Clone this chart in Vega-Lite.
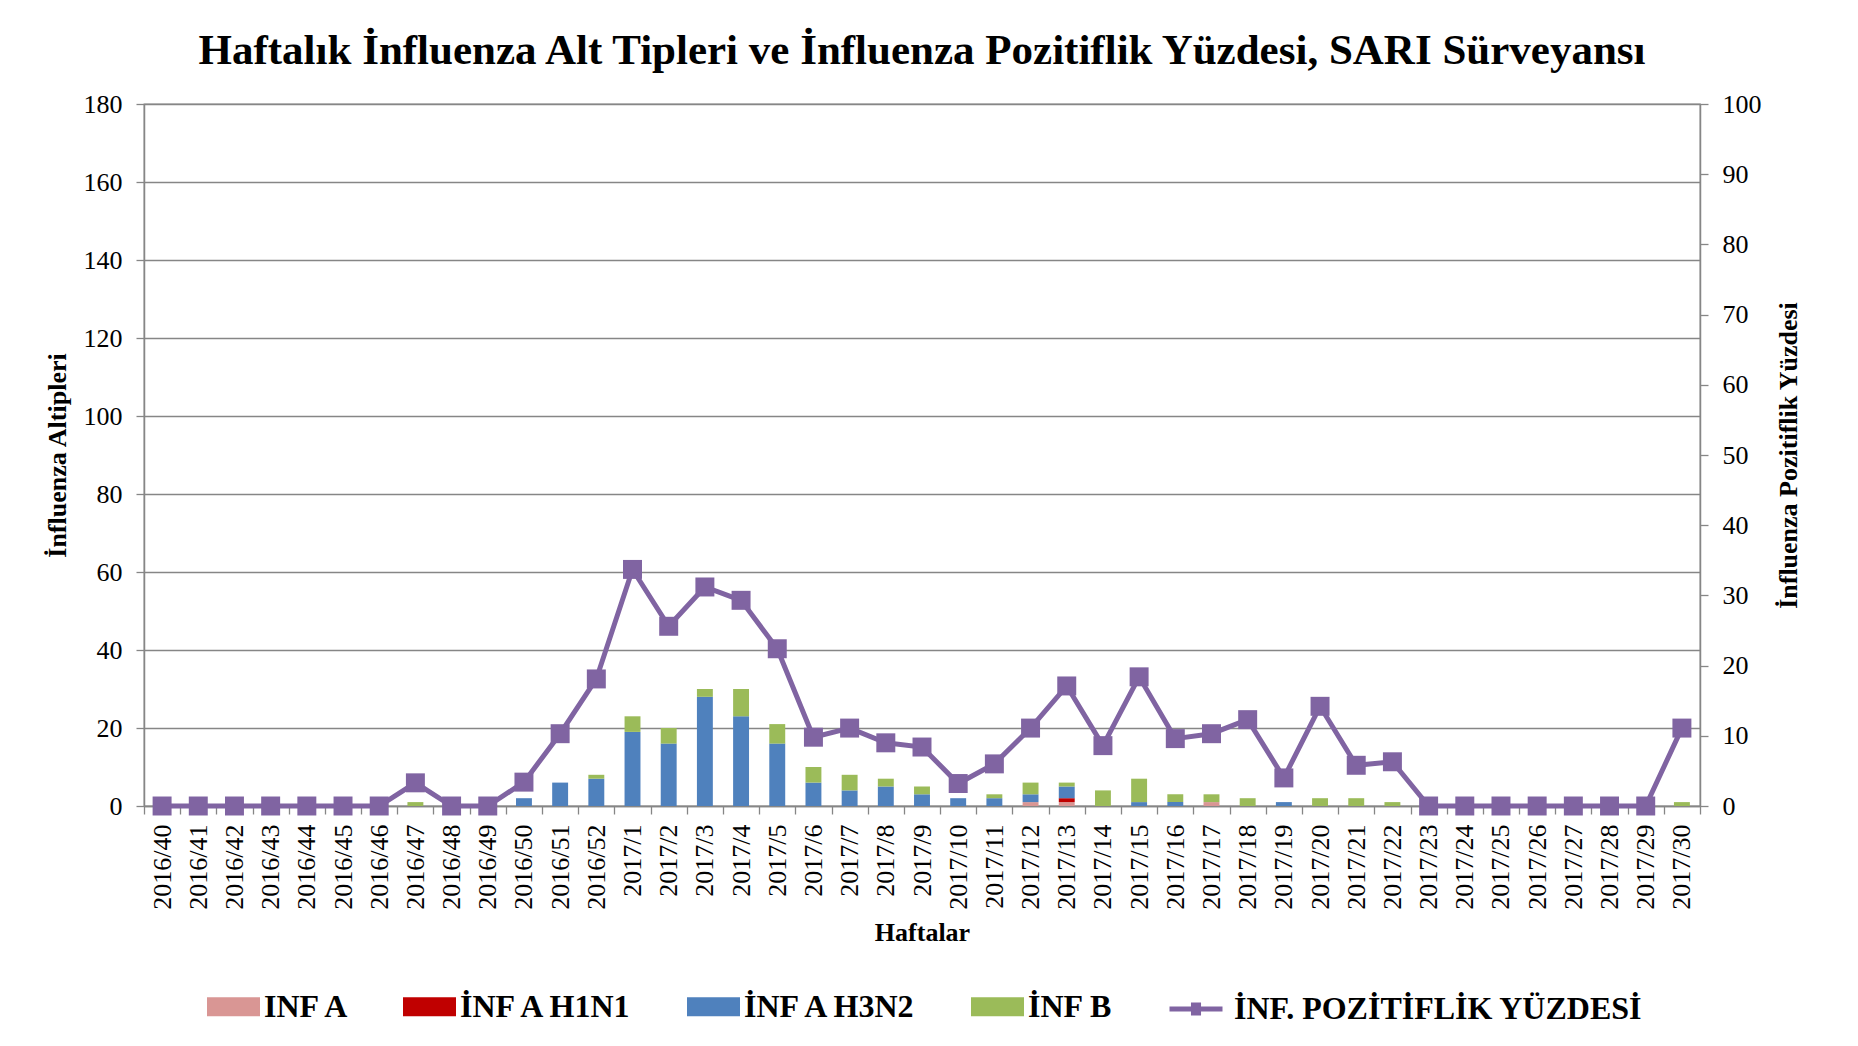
{
  "$schema": "https://vega.github.io/schema/vega-lite/v6.json",
  "autosize": {"type": "none"},
  "padding": {"left": 144, "top": 104, "right": 158, "bottom": 240},
  "width": 1556,
  "height": 702,
  "background": "white",
  "title": {
    "text": "Haftalık İnfluenza Alt Tipleri ve İnfluenza Pozitiflik Yüzdesi, SARI Sürveyansı",
    "font": "Liberation Serif",
    "fontSize": 43,
    "fontWeight": "bold",
    "color": "black",
    "anchor": "middle",
    "offset": 18
  },
  "datasets": {
    "counts": [
      {"week": "2016/47", "series": "İNF B", "n": 1},
      {"week": "2016/50", "series": "İNF A H3N2", "n": 2},
      {"week": "2016/51", "series": "İNF A H3N2", "n": 6},
      {"week": "2016/52", "series": "İNF A H3N2", "n": 7},
      {"week": "2016/52", "series": "İNF B", "n": 1},
      {"week": "2017/1", "series": "İNF A H3N2", "n": 19},
      {"week": "2017/1", "series": "İNF B", "n": 4},
      {"week": "2017/2", "series": "İNF A H3N2", "n": 16},
      {"week": "2017/2", "series": "İNF B", "n": 4},
      {"week": "2017/3", "series": "İNF A H3N2", "n": 28},
      {"week": "2017/3", "series": "İNF B", "n": 2},
      {"week": "2017/4", "series": "İNF A H3N2", "n": 23},
      {"week": "2017/4", "series": "İNF B", "n": 7},
      {"week": "2017/5", "series": "İNF A H3N2", "n": 16},
      {"week": "2017/5", "series": "İNF B", "n": 5},
      {"week": "2017/6", "series": "İNF A H3N2", "n": 6},
      {"week": "2017/6", "series": "İNF B", "n": 4},
      {"week": "2017/7", "series": "İNF A H3N2", "n": 4},
      {"week": "2017/7", "series": "İNF B", "n": 4},
      {"week": "2017/8", "series": "İNF A H3N2", "n": 5},
      {"week": "2017/8", "series": "İNF B", "n": 2},
      {"week": "2017/9", "series": "İNF A H3N2", "n": 3},
      {"week": "2017/9", "series": "İNF B", "n": 2},
      {"week": "2017/10", "series": "İNF A H3N2", "n": 2},
      {"week": "2017/11", "series": "İNF A H3N2", "n": 2},
      {"week": "2017/11", "series": "İNF B", "n": 1},
      {"week": "2017/12", "series": "INF A", "n": 1},
      {"week": "2017/12", "series": "İNF A H3N2", "n": 2},
      {"week": "2017/12", "series": "İNF B", "n": 3},
      {"week": "2017/13", "series": "INF A", "n": 1},
      {"week": "2017/13", "series": "İNF A H1N1", "n": 1},
      {"week": "2017/13", "series": "İNF A H3N2", "n": 3},
      {"week": "2017/13", "series": "İNF B", "n": 1},
      {"week": "2017/14", "series": "İNF B", "n": 4},
      {"week": "2017/15", "series": "İNF A H3N2", "n": 1},
      {"week": "2017/15", "series": "İNF B", "n": 6},
      {"week": "2017/16", "series": "İNF A H3N2", "n": 1},
      {"week": "2017/16", "series": "İNF B", "n": 2},
      {"week": "2017/17", "series": "INF A", "n": 1},
      {"week": "2017/17", "series": "İNF B", "n": 2},
      {"week": "2017/18", "series": "İNF B", "n": 2},
      {"week": "2017/19", "series": "İNF A H3N2", "n": 1},
      {"week": "2017/20", "series": "İNF B", "n": 2},
      {"week": "2017/21", "series": "İNF B", "n": 2},
      {"week": "2017/22", "series": "İNF B", "n": 1},
      {"week": "2017/30", "series": "İNF B", "n": 1}
    ],
    "pct": [
      {"week": "2016/40", "pct": 0}, {"week": "2016/41", "pct": 0}, {"week": "2016/42", "pct": 0},
      {"week": "2016/43", "pct": 0}, {"week": "2016/44", "pct": 0}, {"week": "2016/45", "pct": 0},
      {"week": "2016/46", "pct": 0}, {"week": "2016/47", "pct": 3.3}, {"week": "2016/48", "pct": 0},
      {"week": "2016/49", "pct": 0}, {"week": "2016/50", "pct": 3.4}, {"week": "2016/51", "pct": 10.3},
      {"week": "2016/52", "pct": 18.1}, {"week": "2017/1", "pct": 33.7}, {"week": "2017/2", "pct": 25.6},
      {"week": "2017/3", "pct": 31.2}, {"week": "2017/4", "pct": 29.3}, {"week": "2017/5", "pct": 22.4},
      {"week": "2017/6", "pct": 9.8}, {"week": "2017/7", "pct": 11.1}, {"week": "2017/8", "pct": 9.0},
      {"week": "2017/9", "pct": 8.4}, {"week": "2017/10", "pct": 3.2}, {"week": "2017/11", "pct": 6.0},
      {"week": "2017/12", "pct": 11.1}, {"week": "2017/13", "pct": 17.1}, {"week": "2017/14", "pct": 8.6},
      {"week": "2017/15", "pct": 18.4}, {"week": "2017/16", "pct": 9.6}, {"week": "2017/17", "pct": 10.3},
      {"week": "2017/18", "pct": 12.3}, {"week": "2017/19", "pct": 4.0}, {"week": "2017/20", "pct": 14.2},
      {"week": "2017/21", "pct": 5.8}, {"week": "2017/22", "pct": 6.3}, {"week": "2017/23", "pct": 0},
      {"week": "2017/24", "pct": 0}, {"week": "2017/25", "pct": 0}, {"week": "2017/26", "pct": 0},
      {"week": "2017/27", "pct": 0}, {"week": "2017/28", "pct": 0}, {"week": "2017/29", "pct": 0},
      {"week": "2017/30", "pct": 11.1}
    ]
  },
  "layer": [
    {
      "data": {"name": "counts"},
      "mark": {"type": "bar", "width": {"band": 0.44}},
      "encoding": {
        "x": {
          "field": "week", "type": "nominal",
          "scale": {
            "domain": ["2016/40","2016/41","2016/42","2016/43","2016/44","2016/45","2016/46","2016/47","2016/48","2016/49","2016/50","2016/51","2016/52","2017/1","2017/2","2017/3","2017/4","2017/5","2017/6","2017/7","2017/8","2017/9","2017/10","2017/11","2017/12","2017/13","2017/14","2017/15","2017/16","2017/17","2017/18","2017/19","2017/20","2017/21","2017/22","2017/23","2017/24","2017/25","2017/26","2017/27","2017/28","2017/29","2017/30"],
            "paddingInner": 0, "paddingOuter": 0
          },
          "axis": {
            "title": "Haftalar",
            "labelAngle": -90,
            "tickBand": "extent",
            "labelPadding": 10,
            "titlePadding": 10
          }
        },
        "y": {
          "field": "n", "type": "quantitative", "stack": "zero",
          "scale": {"domain": [0, 180], "nice": false},
          "axis": {
            "title": "İnfluenza Altipleri",
            "values": [0, 20, 40, 60, 80, 100, 120, 140, 160, 180],
            "grid": true,
            "labelPadding": 14,
            "titlePadding": 13
          }
        },
        "color": {
          "field": "series", "type": "nominal",
          "scale": {
            "domain": ["INF A", "İNF A H1N1", "İNF A H3N2", "İNF B"],
            "range": ["#D99694", "#C00000", "#4F81BD", "#9BBB59"]
          },
          "legend": {
            "orient": "none",
            "direction": "horizontal",
            "legendX": 63,
            "legendY": 876,
            "title": null,
            "symbolType": "M-1,-0.36H1V0.36H-1Z",
            "symbolSize": 2809,
            "symbolOpacity": 1,
            "symbolStrokeWidth": 0,
            "labelFont": "Liberation Serif",
            "labelFontSize": 32,
            "labelFontWeight": "bold",
            "labelColor": "black",
            "labelLimit": 1000,
            "labelOffset": 4,
            "columnPadding": 52
          }
        },
        "order": {"field": "series", "sort": "ascending"}
      }
    },
    {
      "data": {"name": "pct"},
      "mark": {"type": "line", "strokeWidth": 5, "point": {"shape": "square", "size": 360, "filled": true, "opacity": 1}},
      "encoding": {
        "x": {"field": "week", "type": "nominal"},
        "y": {
          "field": "pct", "type": "quantitative",
          "scale": {"domain": [0, 100], "nice": false},
          "axis": {
            "orient": "right",
            "title": "İnfluenza Pozitiflik Yüzdesi",
            "values": [0, 10, 20, 30, 40, 50, 60, 70, 80, 90, 100],
            "grid": false,
            "labelPadding": 14,
            "titleAngle": 270,
            "titleBaseline": "top",
            "titlePadding": 14
          }
        },
        "color": {
          "datum": "İNF. POZİTİFLİK YÜZDESİ", "type": "nominal",
          "scale": {"domain": ["İNF. POZİTİFLİK YÜZDESİ"], "range": ["#8064A2"]},
          "legend": {
            "orient": "none",
            "direction": "horizontal",
            "legendX": 1023,
            "legendY": 876,
            "title": null,
            "symbolType": "M-1,0H1M-0.19,-0.15H0.19M-0.19,-0.07H0.19M-0.19,0H0.19M-0.19,0.07H0.19M-0.19,0.15H0.19",
            "symbolSize": 2809,
            "symbolOpacity": 1,
            "symbolStrokeWidth": 5,
            "symbolStrokeColor": "#8064A2",
            "labelFont": "Liberation Serif",
            "labelFontSize": 32,
            "labelFontWeight": "bold",
            "labelColor": "black",
            "labelLimit": 1000,
            "labelOffset": 9
          }
        }
      }
    }
  ],
  "resolve": {"scale": {"y": "independent", "color": "independent"}},
  "config": {
    "view": {"stroke": "#868686", "strokeWidth": 1.3},
    "axis": {
      "labelFont": "Liberation Serif",
      "labelFontSize": 26,
      "labelColor": "black",
      "titleFont": "Liberation Serif",
      "titleFontSize": 26,
      "titleFontWeight": "bold",
      "titleColor": "black",
      "domainColor": "#868686",
      "domainWidth": 1.5,
      "tickColor": "#868686",
      "tickWidth": 1.3,
      "tickSize": 8,
      "gridColor": "#868686",
      "gridWidth": 1.3
    }
  }
}
